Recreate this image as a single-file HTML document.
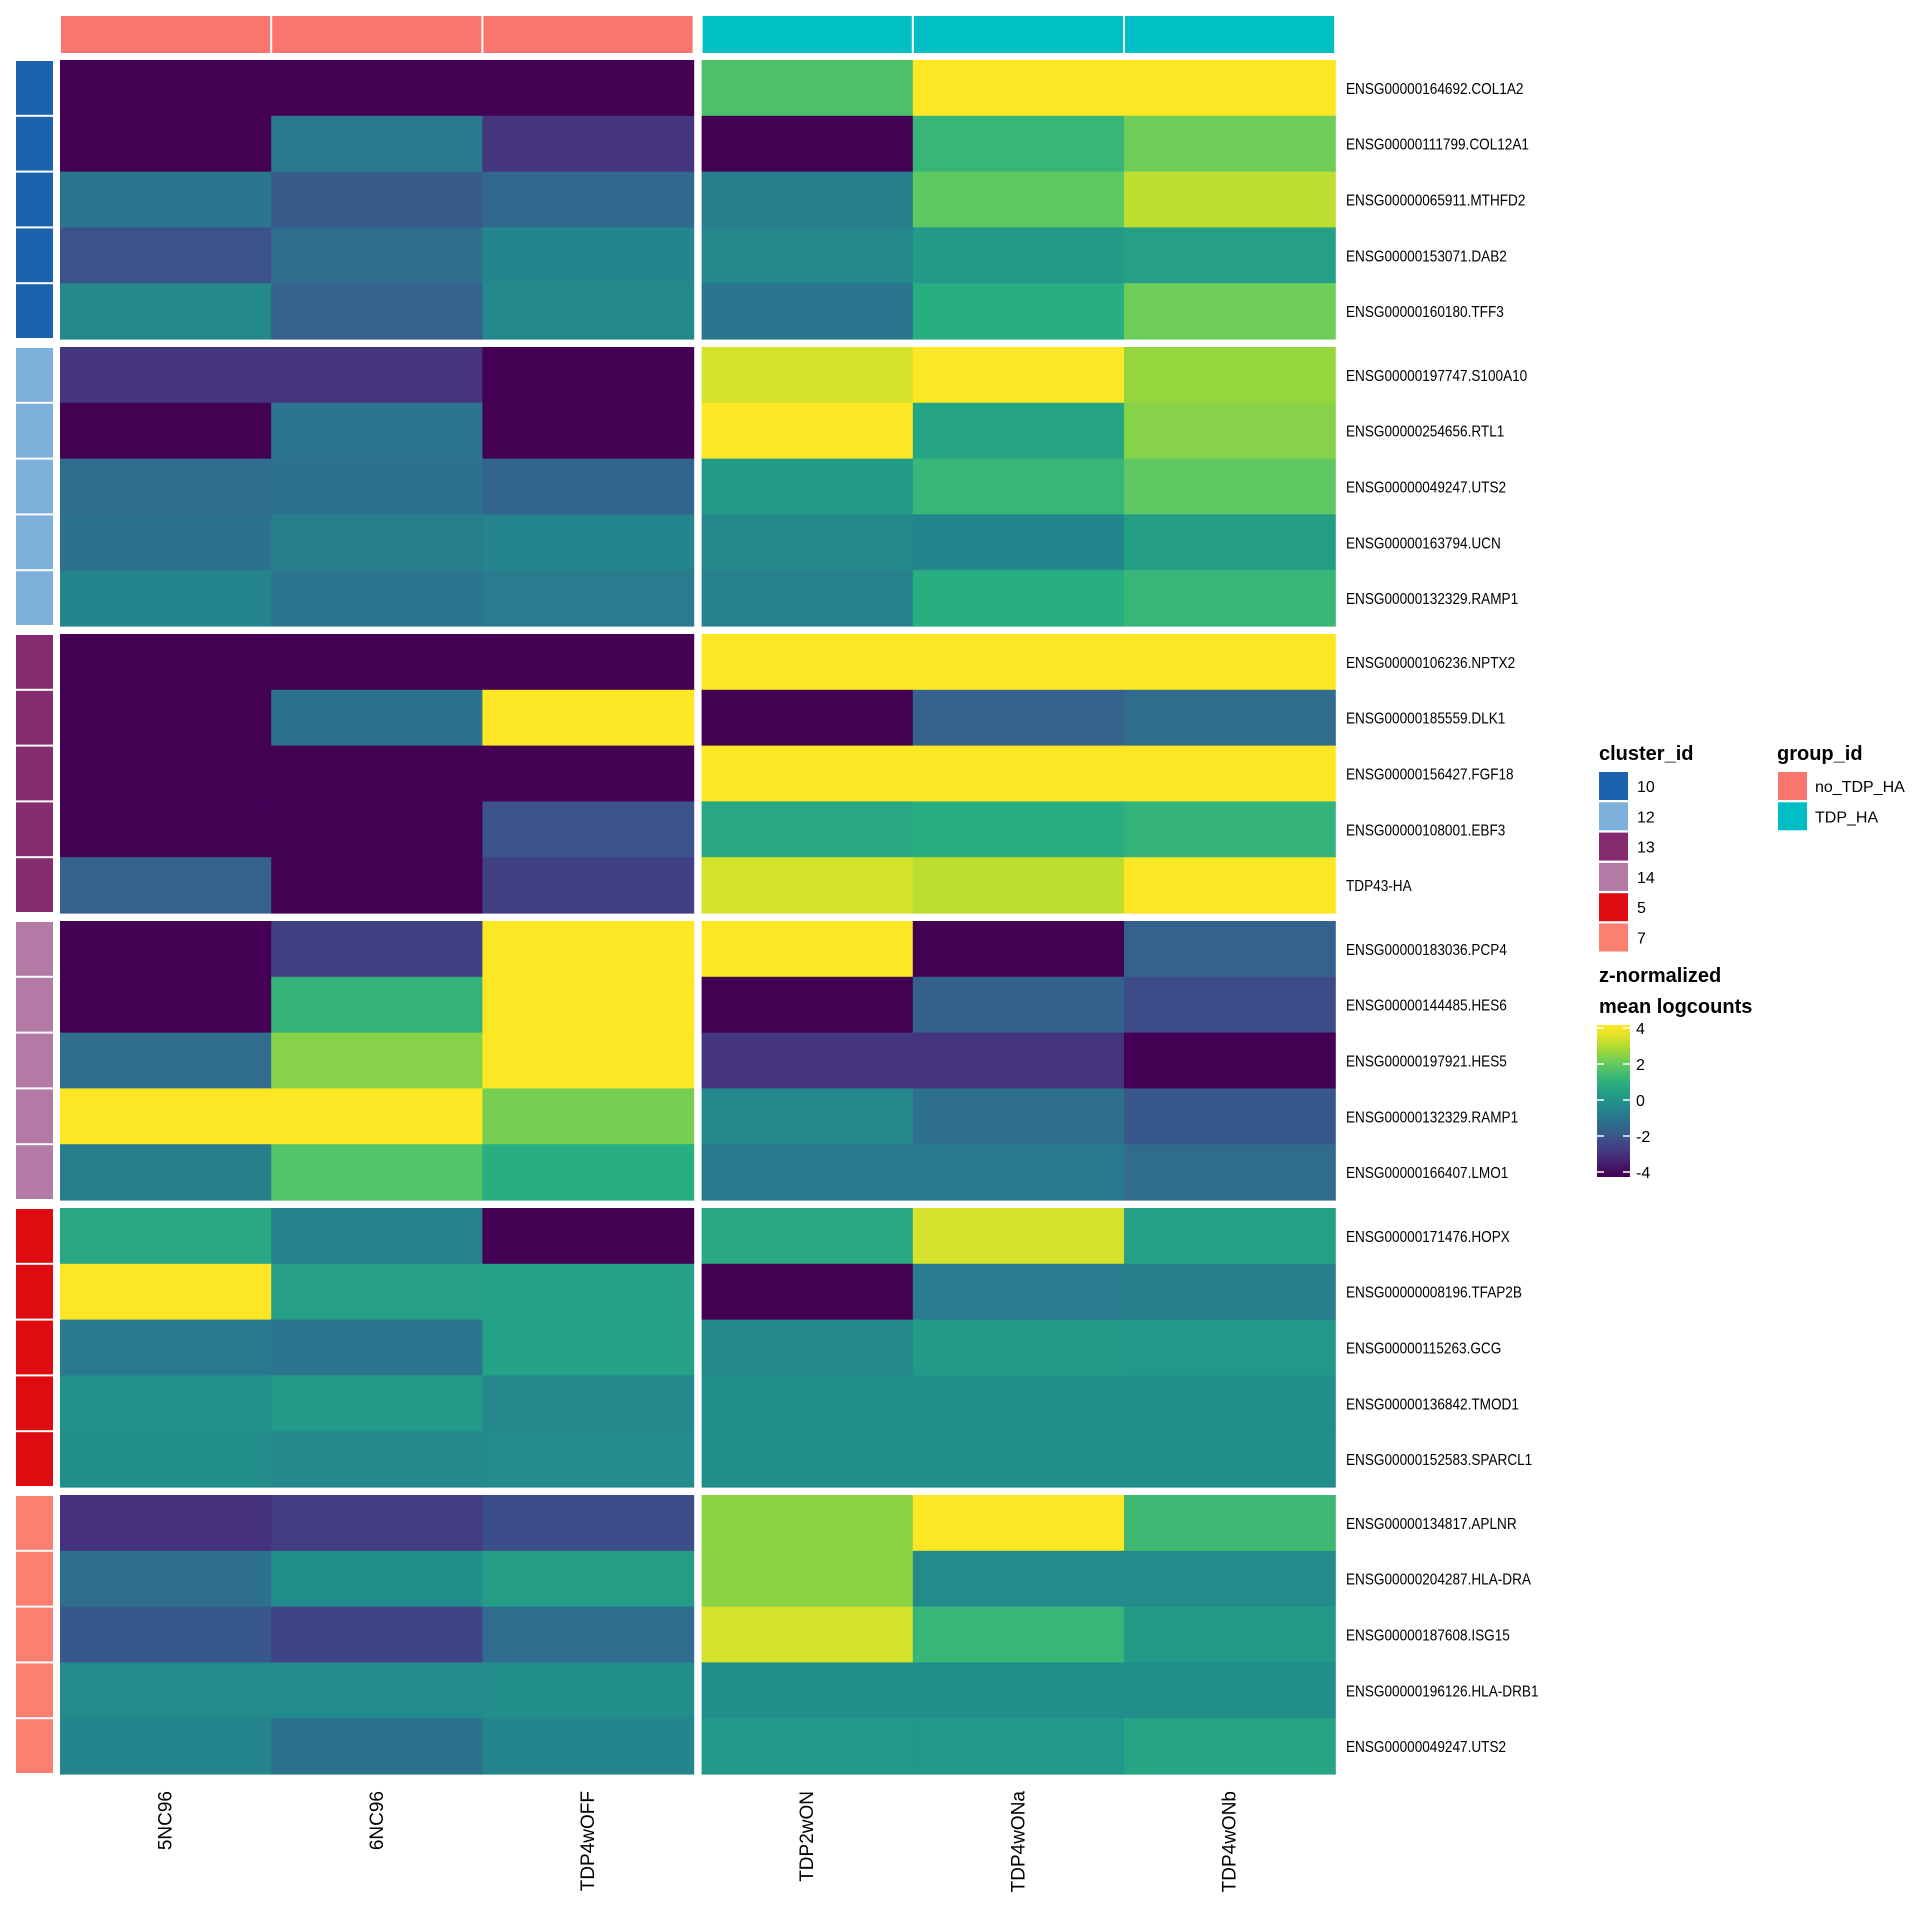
<!DOCTYPE html>
<html><head><meta charset="utf-8">
<style>
body{margin:0;background:#fff;}
svg{display:block;font-family:"Liberation Sans",sans-serif;}
</style></head>
<body>
<svg id="chart" width="1920" height="1920" xmlns="http://www.w3.org/2000/svg">
<g id="cells"></g>
<g id="ann"></g>
<g id="labels"></g>
<g id="legend"></g>
</svg>
<script>
const samples = ["5NC96","6NC96","TDP4wOFF","TDP2wON","TDP4wONa","TDP4wONb"];
const sampleGroups = ["no_TDP_HA","no_TDP_HA","no_TDP_HA","TDP_HA","TDP_HA","TDP_HA"];
const clusters = ["10","12","13","14","5","7"];
const genes = [
 ["ENSG00000164692.COL1A2","ENSG00000111799.COL12A1","ENSG00000065911.MTHFD2","ENSG00000153071.DAB2","ENSG00000160180.TFF3"],
 ["ENSG00000197747.S100A10","ENSG00000254656.RTL1","ENSG00000049247.UTS2","ENSG00000163794.UCN","ENSG00000132329.RAMP1"],
 ["ENSG00000106236.NPTX2","ENSG00000185559.DLK1","ENSG00000156427.FGF18","ENSG00000108001.EBF3","TDP43-HA"],
 ["ENSG00000183036.PCP4","ENSG00000144485.HES6","ENSG00000197921.HES5","ENSG00000132329.RAMP1","ENSG00000166407.LMO1"],
 ["ENSG00000171476.HOPX","ENSG00000008196.TFAP2B","ENSG00000115263.GCG","ENSG00000136842.TMOD1","ENSG00000152583.SPARCL1"],
 ["ENSG00000134817.APLNR","ENSG00000204287.HLA-DRA","ENSG00000187608.ISG15","ENSG00000196126.HLA-DRB1","ENSG00000049247.UTS2"]
];
const values10 = [[-4,-4,-4,1.7,4,4],[-4,-0.8,-2.8,-4,1.3,2.2],[-0.9,-1.7,-1.3,-0.6,2,3.2],[-2,-1.1,-0.4,-0.3,0.3,0.5],[-0.3,-1.5,-0.3,-0.9,1.0,2.2]];
const values12 = [[-2.8,-2.8,-4,3.5,4,2.7],[-4,-0.9,-4,4,0.7,2.5],[-1.2,-1.0,-1.4,0.3,1.3,2.0],[-1.0,-0.6,-0.4,-0.3,-0.4,0.4],[-0.4,-0.9,-0.7,-0.5,1.0,1.3]];
const values13 = [[-4,-4,-4,4,4,4],[-4,-1.0,4,-4,-1.5,-1.2],[-4,-4,-4,4,4,4],[-4,-4,-2,0.8,1.0,1.2],[-1.5,-4,-2.5,3.5,3.2,4]];
const values14 = [[-4,-2.5,4,4,-4,-1.5],[-4,1.2,4,-4,-1.6,-2.2],[-1.2,2.5,4,-2.8,-2.8,-4],[4,4,2.3,-0.3,-1.1,-1.8],[-0.6,1.8,1.0,-0.8,-0.8,-1.2]];
const values5 = [[0.8,-0.5,-4,0.8,3.5,0.6],[4,0.5,0.6,-4,-0.7,-0.6],[-0.8,-0.9,0.6,-0.3,0.3,0.2],[0,0.3,-0.3,-0.1,-0.1,-0.1],[-0.1,-0.3,-0.2,-0.1,-0.1,-0.1]];
const values7 = [[-2.9,-2.6,-2.1,2.6,4,1.4],[-1.1,-0.1,0.4,2.6,-0.2,-0.2],[-1.8,-2.4,-1.2,3.5,1.3,0.3],[-0.2,-0.2,-0.1,-0.1,-0.1,-0.1],[-0.4,-1.0,-0.4,0.2,0.2,0.7]];
const blockValues = [values10,values12,values13,values14,values5,values7];
const colorTicks = [4,2,0,-2,-4];

const NS="http://www.w3.org/2000/svg";
const clusterColors={"10":"#1b63ae","12":"#7eb0dc","13":"#862b6f","14":"#b37aa6","5":"#de0b10","7":"#fb8072"};
const groupColors={"no_TDP_HA":"#f8766d","TDP_HA":"#00bfc4"};
const vir=["#440154","#472d7b","#3b528b","#2c728e","#21918c","#28ae80","#5ec962","#addc30","#fde725"];
function hex(c){return [1,3,5].map(i=>parseInt(c.substr(i,2),16));}
function viridis(v){let t=(v+4)/8;t=Math.max(0,Math.min(1,t));const p=t*8,i=Math.min(7,Math.floor(p)),f=p-i;const a=hex(vir[i]),b=hex(vir[i+1]);return "rgb("+a.map((x,k)=>Math.round(x+(b[k]-x)*f)).join(",")+")";}
const colW=211.2, rowH=55.8, blockGap=8, blockH=rowH*5;
function xPos(j){return 60+j*colW+(j>=3?8:0);}
function yPos(b,r){return 60+b*(blockH+blockGap)+r*rowH;}
function mk(tag,attrs,parent){const e=document.createElementNS(NS,tag);for(const k in attrs)e.setAttribute(k,attrs[k]);parent.appendChild(e);return e;}
const cells=document.getElementById('cells'),ann=document.getElementById('ann'),labels=document.getElementById('labels'),legend=document.getElementById('legend');
blockValues.forEach((bv,b)=>{
  bv.forEach((row,r)=>{
    row.forEach((v,j)=>{
      const e=mk('rect',{x:xPos(j),y:yPos(b,r),width:colW+0.6,height:rowH+0.6,fill:viridis(v)},cells);
      
      
    });
    const c=mk('rect',{x:16,y:yPos(b,r)+1,width:37,height:rowH-2,fill:clusterColors[clusters[b]]},ann);
    
    
    const t=mk('text',{x:0,y:0,'font-size':16,fill:'#000',transform:'translate(1346,'+(yPos(b,r)+rowH/2+6)+') scale(0.85,1)'},labels);
    t.textContent=genes[b][r];
    
    
  });
});
samples.forEach((s,j)=>{
  const g=mk('rect',{x:xPos(j)+1,y:16,width:colW-2,height:37,fill:groupColors[sampleGroups[j]]},ann);
  
  
  const cx=xPos(j)+colW/2+6;
  const t=mk('text',{x:0,y:0,'font-size':19,'text-anchor':'end',transform:'translate('+cx+',1791) rotate(-90)'},labels);
  t.textContent=s;
  
  
});
function txt(x,y,s,size,bold,name){const t=mk('text',{x:x,y:y,'font-size':size,'font-weight':bold?'bold':'normal'},legend);t.textContent=s;return t;}
txt(1599,760,'cluster_id',20,true,'cluster-legend-title');
clusters.forEach((c,i)=>{
  const y=772+i*30.3;
  const r=mk('rect',{x:1599,y:y,width:29,height:28,fill:clusterColors[c]},legend);
  
  
  txt(1637,y+20,c,16,false,'cluster-legend-label');
});
txt(1777,760,'group_id',20,true,'group-legend-title');
Object.keys(groupColors).forEach((g,i)=>{
  const y=772+i*30.3;
  const r=mk('rect',{x:1778,y:y,width:29,height:28,fill:groupColors[g]},legend);
  
  
  txt(1815,y+20,g,16,false,'group-legend-label');
});
txt(1599,982,'z-normalized',20,true,'colorbar-title');
txt(1599,1013,'mean logcounts',20,true,'colorbar-title-2');
const defs=mk('defs',{},legend);
const lg=mk('linearGradient',{id:'vg',x1:0,y1:1,x2:0,y2:0},defs);
for(let k=0;k<=16;k++){mk('stop',{offset:k/16,'stop-color':viridis(-4.1+k/16*8.3)},lg);}
const cbTop=1025,cbBot=1177;
function cbY(v){return 1100-v*18;}
const cb=mk('rect',{x:1597,y:cbTop,width:33,height:cbBot-cbTop,fill:'url(#vg)'},legend);


colorTicks.forEach(v=>{
  const y=cbY(v);
  mk('line',{x1:1597,x2:1604,y1:y,y2:y,stroke:'#fff','stroke-width':1.5},legend);
  mk('line',{x1:1623,x2:1630,y1:y,y2:y,stroke:'#fff','stroke-width':1.5},legend);
  txt(1636,y+6,String(v),16,false,'colorbar-tick-label');
});
</script>
</body></html>
